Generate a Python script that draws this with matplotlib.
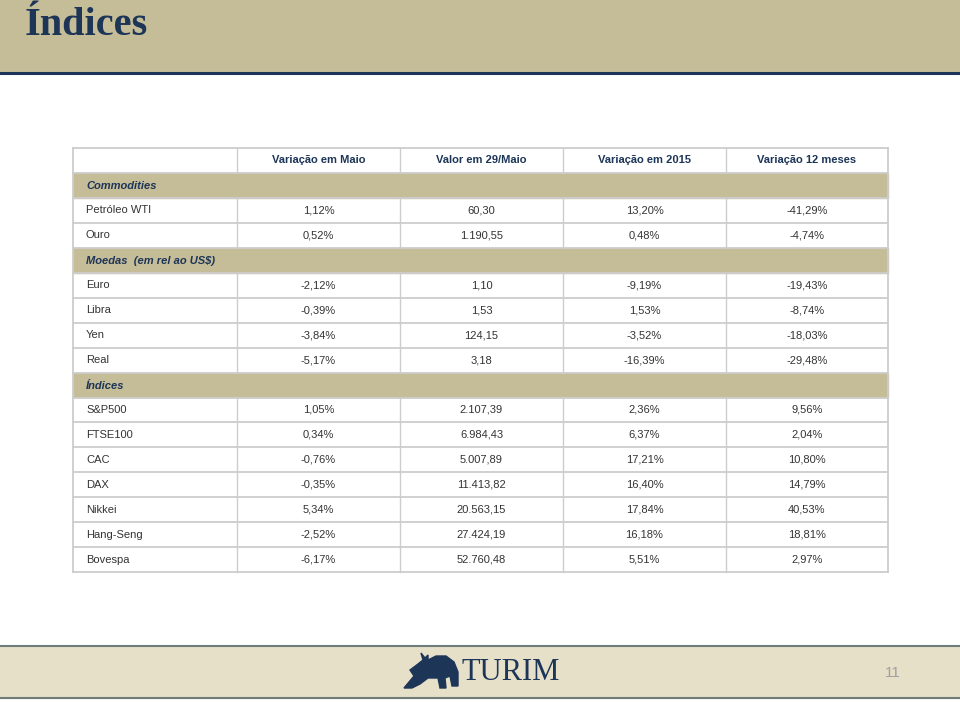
import matplotlib.pyplot as plt
from matplotlib.patches import Rectangle, Polygon

# table data
columns = ["Variação em Maio", "Valor em 29/Maio", "Variação em 2015", "Variação 12 meses"]
sections = ["Commodities", "Moedas  (em rel ao US$)", "Índices"]
section_sizes = [2, 4, 7]
names = ["Petróleo WTI", "Ouro",
         "Euro", "Libra", "Yen", "Real",
         "S&P500", "FTSE100", "CAC", "DAX", "Nikkei", "Hang-Seng", "Bovespa"]
var_maio = [1.12, 0.52, -2.12, -0.39, -3.84, -5.17,
            1.05, 0.34, -0.76, -0.35, 5.34, -2.52, -6.17]
valor = [60.30, 1190.55, 1.10, 1.53, 124.15, 3.18,
         2107.39, 6984.43, 5007.89, 11413.82, 20563.15, 27424.19, 52760.48]
var_2015 = [13.20, 0.48, -9.19, 1.53, -3.52, -16.39,
            2.36, 6.37, 17.21, 16.40, 17.84, 16.18, 5.51]
var_12m = [-41.29, -4.74, -19.43, -8.74, -18.03, -29.48,
           9.56, 2.04, 10.80, 14.79, 40.53, 18.81, 2.97]
page_number = "11"

NAVY = "#1d3557"
SAND = "#c5bc98"
FOOT = "#e6e0c9"
GRID = "#cdcdcd"
TEXT = "#333333"


def br_num(v, pct=False):
    s = f"{v:,.2f}".replace(",", "X").replace(".", ",").replace("X", ".")
    return s + "%" if pct else s


# build rows: (kind, cells)
rows = [("header", [""] + columns)]
k = 0
for sec, n in zip(sections, section_sizes):
    rows.append(("section", [sec]))
    for i in range(k, k + n):
        rows.append(("data", [names[i], br_num(var_maio[i], True), br_num(valor[i]),
                              br_num(var_2015[i], True), br_num(var_12m[i], True)]))
    k += n

fig = plt.figure(figsize=(9.6, 7.02), dpi=100)
ax = fig.add_axes([0, 0, 1, 1])
ax.set_xlim(0, 960)
ax.set_ylim(702, 0)
ax.axis("off")

# title band
ax.add_patch(Rectangle((0, 0), 960, 71, color=SAND, zorder=0))
ax.plot([0, 960], [72.5, 72.5], color=NAVY, lw=2.2)
ax.text(25, 25.5, "Índices", fontsize=29, fontweight="bold", family="Liberation Serif",
        color=NAVY, va="center", ha="left")

# table
col_edges = [73, 237, 400, 563, 726, 888]
top, row_h = 148, 24.95
for r, (kind, cells) in enumerate(rows):
    y0 = top + r * row_h
    yc = y0 + row_h / 2
    if kind == "section":
        ax.add_patch(Rectangle((col_edges[0], y0), col_edges[-1] - col_edges[0], row_h,
                               color=SAND, zorder=1))
        ax.text(col_edges[0] + 13, yc + 1, cells[0], fontsize=8, fontweight="bold",
                style="italic", color=NAVY, va="center", family="Liberation Sans", zorder=3)
        continue
    for c in range(1, len(col_edges) - 1):
        ax.plot([col_edges[c]] * 2, [y0, y0 + row_h], color=GRID, lw=1, zorder=2)
    for c, txt in enumerate(cells):
        if kind == "header":
            if c == 0:
                continue
            ax.text((col_edges[c] + col_edges[c + 1]) / 2, yc, txt, fontsize=8,
                    fontweight="bold", color=NAVY, ha="center", va="center",
                    family="Liberation Sans", zorder=3)
        elif c == 0:
            ax.text(col_edges[0] + 13, yc, txt, fontsize=8, color=TEXT, va="center",
                    family="Liberation Sans", zorder=3)
        else:
            ax.text((col_edges[c] + col_edges[c + 1]) / 2, yc, txt, fontsize=8,
                    color=TEXT, ha="center", va="center", family="Liberation Sans", zorder=3)

bottom = top + len(rows) * row_h
for r in range(len(rows) + 1):
    y = top + r * row_h
    ax.plot([col_edges[0], col_edges[-1]], [y, y], color=GRID, lw=1.3, zorder=2)
ax.plot([col_edges[0]] * 2, [top, bottom], color=GRID, lw=1.3, zorder=2)
ax.plot([col_edges[-1]] * 2, [top, bottom], color=GRID, lw=1.3, zorder=2)

# footer band
ax.add_patch(Rectangle((0, 646), 960, 52, color=FOOT, zorder=0))
ax.plot([0, 960], [646, 646], color="#6f7c7a", lw=1.5)
ax.plot([0, 960], [698, 698], color="#6f7c7a", lw=1.5)

# bull logo (rough silhouette)
bull = [(404, 688), (414, 676), (410, 670), (418, 664), (423, 660), (421, 653),
        (425, 658), (428, 655), (428, 660), (436, 656), (446, 656), (454, 662),
        (458, 672), (458, 686), (452, 686), (450, 676), (445, 678), (446, 688),
        (440, 688), (438, 678), (428, 678), (420, 684), (412, 688)]
ax.add_patch(Polygon(bull, closed=True, color=NAVY, zorder=3))
ax.text(461, 672, "TURIM", fontsize=22, family="Liberation Serif", color=NAVY,
        va="center", ha="left")
ax.text(893, 673, page_number, fontsize=11, family="Liberation Sans", color="#a0a0a0",
        va="center", ha="center")

fig.savefig("out.png", dpi=100)
